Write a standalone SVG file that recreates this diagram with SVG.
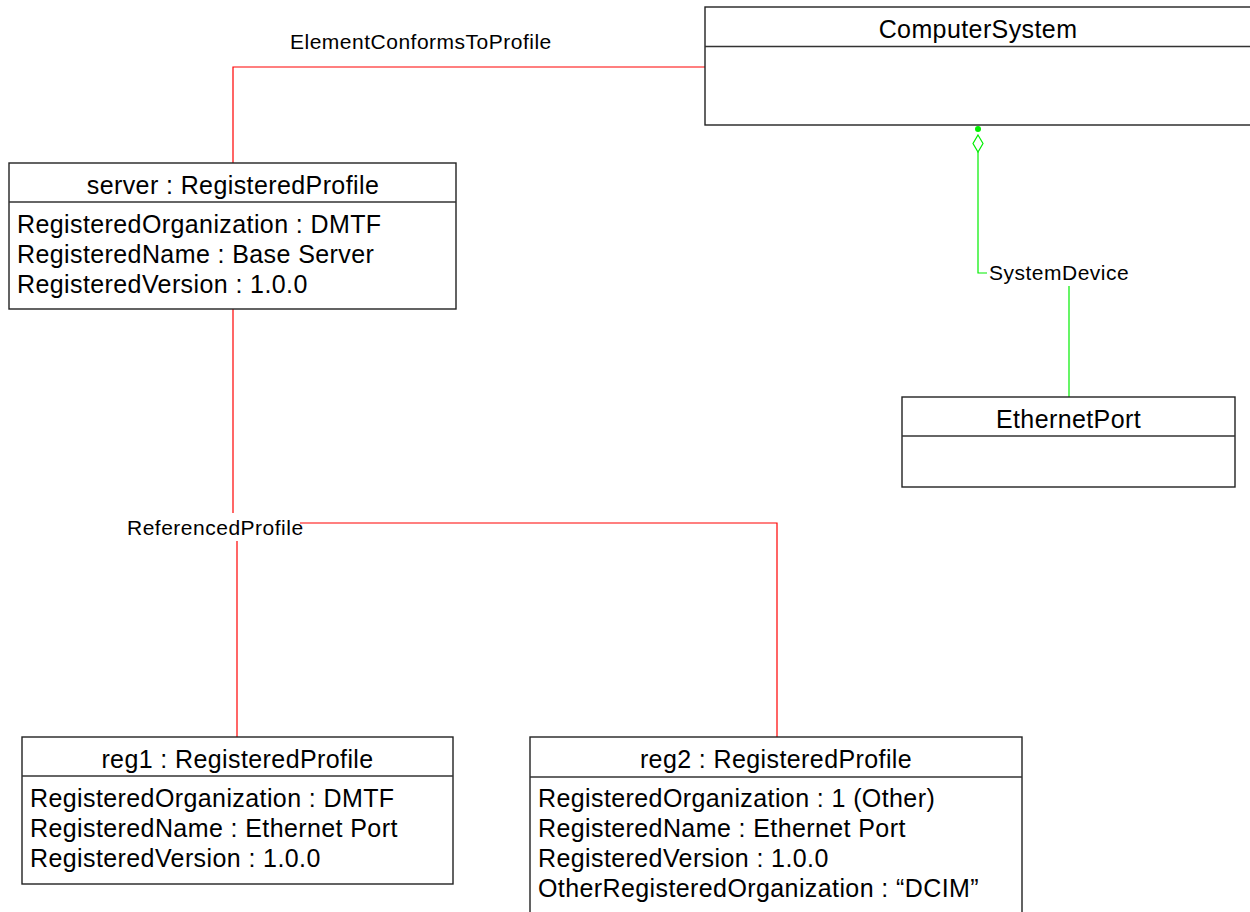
<svg xmlns="http://www.w3.org/2000/svg" width="1250" height="912" viewBox="0 0 1250 912">
<style>
.box{fill:#fff;stroke:#222;stroke-width:1.4}
.div{stroke:#333;stroke-width:1.4}
.t{font-family:"Liberation Sans",Arial,sans-serif;font-size:25px;letter-spacing:0.4px;fill:#000}
.c{text-anchor:middle}
.lbl{font-family:"Liberation Sans",Arial,sans-serif;font-size:21px;letter-spacing:0.5px;fill:#000}
.red{fill:none;stroke:#ff0000;stroke-width:1.2}
.grn{fill:none;stroke:#00ee00;stroke-width:1.2}
</style>
<rect width="1250" height="912" fill="#fff"/>
<g id="connectors">
  <polyline class="red" points="705,67 233,67 233,163"/>
  <line class="red" x1="233" y1="309" x2="233" y2="513"/>
  <polyline class="red" points="300,523 777,523 777,737"/>
  <line class="red" x1="237" y1="541" x2="237" y2="737"/>
  <circle cx="978" cy="129" r="3" fill="#00ee00"/>
  <polygon class="grn" points="978,135 983,143.5 978,152 973,143.5"/>
  <polyline class="grn" points="978,152 978,273 987,273"/>
  <line class="grn" x1="1069" y1="286" x2="1069" y2="397"/>
  <text class="lbl" x="290" y="49">ElementConformsToProfile</text>
  <text class="lbl" x="989" y="280">SystemDevice</text>
  <text class="lbl" x="127" y="535">ReferencedProfile</text>
</g>
<g id="ComputerSystem">
  <rect class="box" x="705" y="7" width="550" height="118"/>
  <line class="div" x1="705" y1="46.5" x2="1255" y2="46.5"/>
  <text class="t c" x="978" y="38">ComputerSystem</text>
</g>
<g id="server">
  <rect class="box" x="9" y="163" width="447" height="146"/>
  <line class="div" x1="9" y1="202" x2="456" y2="202"/>
  <text class="t c" x="233" y="194">server : RegisteredProfile</text>
  <text class="t" x="17" y="233">RegisteredOrganization : DMTF</text>
  <text class="t" x="17" y="263">RegisteredName : Base Server</text>
  <text class="t" x="17" y="293">RegisteredVersion : 1.0.0</text>
</g>
<g id="EthernetPort">
  <rect class="box" x="902" y="397" width="333" height="90"/>
  <line class="div" x1="902" y1="436" x2="1235" y2="436"/>
  <text class="t c" x="1068.5" y="428">EthernetPort</text>
</g>
<g id="reg1">
  <rect class="box" x="22" y="737" width="431" height="147"/>
  <line class="div" x1="22" y1="776" x2="453" y2="776"/>
  <text class="t c" x="237.5" y="768">reg1 : RegisteredProfile</text>
  <text class="t" x="30" y="807">RegisteredOrganization : DMTF</text>
  <text class="t" x="30" y="837">RegisteredName : Ethernet Port</text>
  <text class="t" x="30" y="867">RegisteredVersion : 1.0.0</text>
</g>
<g id="reg2">
  <rect class="box" x="530" y="737" width="492" height="190"/>
  <line class="div" x1="530" y1="777" x2="1022" y2="777"/>
  <text class="t c" x="776" y="768">reg2 : RegisteredProfile</text>
  <text class="t" x="538" y="807">RegisteredOrganization : 1 (Other)</text>
  <text class="t" x="538" y="837">RegisteredName : Ethernet Port</text>
  <text class="t" x="538" y="867">RegisteredVersion : 1.0.0</text>
  <text class="t" x="538" y="897">OtherRegisteredOrganization : “DCIM”</text>
</g>
</svg>
